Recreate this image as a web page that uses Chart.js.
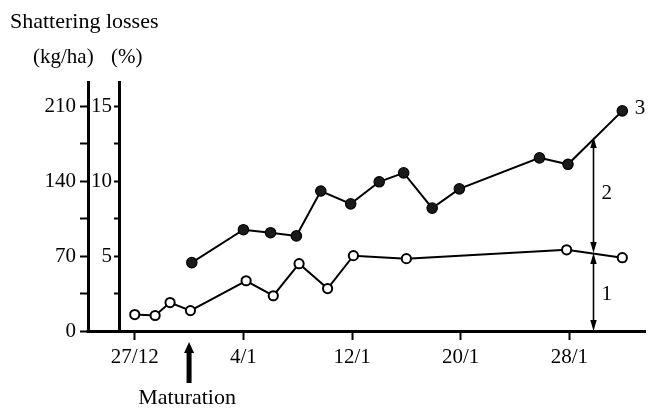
<!DOCTYPE html>
<html><head><meta charset="utf-8">
<script src="https://cdn.jsdelivr.net/npm/chart.js@4.4.1/dist/chart.umd.min.js"></script>
<style>html,body{margin:0;padding:0;background:#fff}#wrap{width:652px;height:408px}</style>
</head><body><div id="wrap"><canvas id="c" width="652" height="408"></canvas></div>
<script>
// Days counted from 27/12
const openDays = [0, 1.5, 2.6, 4.1, 8.2, 10.2, 12.1, 14.2, 16.1, 20, 31.8, 35.9];
const openKg   = [15.4, 14.5, 26.6, 19.1, 47, 33, 63, 39.7, 70.5, 67.7, 76, 68.6];
const filledDays = [4.2, 8, 10, 11.9, 13.7, 15.9, 18, 19.8, 21.9, 23.9, 29.8, 31.9, 35.9];
const filledKg   = [64, 94.8, 92, 89, 131, 119, 139.6, 148, 115, 133, 162, 156, 206];

const xTickDays = [0, 8, 16, 24, 32];
const xTickLabels = ['27/12', '4/1', '12/1', '20/1', '28/1'];
const kgTicks = [0, 35, 70, 105, 140, 175, 210];
const kgLabels = ['0', '', '70', '', '140', '', '210'];
const pctTicks = [2.5, 5, 7.5, 10, 12.5, 15];
const pctLabels = ['', '5', '', '10', '', '15'];
const kgPerPct = 14;

const maturationDay = 4;
const arrowDay = 33.75;
const arrowLevels = [0, 73, 181.5];
const curveLabelTexts = ['1', '2', '3'];
const curveLabelDays = [34.75, 34.75, 37.2];
const curveLabelKg = [34, 129, 208];

const FONT = '"Liberation Serif", "Times New Roman", serif';
const KG_MAX = 233;

const annot = {
  id: 'annot',
  afterDraw(chart) {
    const {ctx, chartArea, scales} = chart;
    const x = scales.x, y = scales.y, kg = scales.y;
    ctx.save();
    ctx.fillStyle = '#000';
    ctx.strokeStyle = '#000';
    // baseline segment between the two vertical axes
    const by = Math.round(chartArea.bottom) + 0.5;
    ctx.lineWidth = 3;
    ctx.beginPath();
    ctx.moveTo(kg.right - 1.5, by);
    ctx.lineTo(chartArea.left + 1, by);
    ctx.stroke();

    // double arrows on the right
    const ax = Math.round(x.getPixelForValue(arrowDay)) + 0.5;
    const head = (tx, ty, dir) => {
      ctx.beginPath();
      ctx.moveTo(tx, ty);
      ctx.lineTo(tx - 3.2, ty - dir * 11);
      ctx.lineTo(tx + 3.2, ty - dir * 11);
      ctx.closePath();
      ctx.fill();
    };
    ctx.lineWidth = 1.6;
    for (let i = 0; i < arrowLevels.length - 1; i++) {
      const yb = y.getPixelForValue(arrowLevels[i]);
      const yt = y.getPixelForValue(arrowLevels[i + 1]);
      ctx.beginPath();
      ctx.moveTo(ax, yb - 4);
      ctx.lineTo(ax, yt + 4);
      ctx.stroke();
      head(ax, yb, 1);
      head(ax, yt, -1);
    }

    // curve labels
    ctx.font = '21px ' + FONT;
    ctx.textAlign = 'center';
    ctx.textBaseline = 'middle';
    curveLabelTexts.forEach((t, i) => {
      ctx.fillText(t, x.getPixelForValue(curveLabelDays[i]), y.getPixelForValue(curveLabelKg[i]));
    });

    // maturation arrow
    const mx = x.getPixelForValue(maturationDay);
    const tipY = chartArea.bottom + 11;
    const endY = chartArea.bottom + 52;
    ctx.beginPath();
    ctx.moveTo(mx, tipY);
    ctx.lineTo(mx - 5, tipY + 11);
    ctx.lineTo(mx - 2.5, tipY + 11);
    ctx.lineTo(mx - 2.5, endY);
    ctx.lineTo(mx + 2.5, endY);
    ctx.lineTo(mx + 2.5, tipY + 11);
    ctx.lineTo(mx + 5, tipY + 11);
    ctx.closePath();
    ctx.fill();
    ctx.font = '22px ' + FONT;
    ctx.fillText('Maturation', mx - 2, chartArea.bottom + 67);

    // headings
    ctx.textAlign = 'left';
    ctx.fillText('Shattering losses', 10, 22);
    ctx.font = '21px ' + FONT;
    ctx.fillText('(kg/ha)', 33, 57);
    ctx.fillText('(%)', 111, 57);
    ctx.restore();
  }
};

const pts = (days, vals) => days.map((d, i) => ({x: d, y: vals[i]}));

new Chart(document.getElementById('c'), {
  type: 'line',
  data: {
    datasets: [
      {
        label: '1',
        data: pts(openDays, openKg),
        borderColor: '#000', borderWidth: 2,
        pointRadius: 4.6, pointBackgroundColor: '#fff',
        pointBorderColor: '#000', pointBorderWidth: 2,
        tension: 0, yAxisID: 'y'
      },
      {
        label: '3',
        data: pts(filledDays, filledKg),
        borderColor: '#000', borderWidth: 2,
        pointRadius: 5.2, pointBackgroundColor: '#1a1a1a',
        pointBorderColor: '#000', pointBorderWidth: 1.2,
        tension: 0, yAxisID: 'y'
      }
    ]
  },
  options: {
    responsive: false,
    animation: false,
    devicePixelRatio: 1,
    layout: {padding: {top: 82, left: 0, right: 0, bottom: 0}},
    plugins: {legend: {display: false}, tooltip: {enabled: false}, title: {display: false}},
    scales: {
      x: {
        type: 'linear', position: 'bottom',
        min: -1.16, max: 37.6,
        afterFit: s => { s.height = 77; },
        afterBuildTicks: s => { s.ticks = xTickDays.map(v => ({value: v})); },
        grid: {drawOnChartArea: false, drawTicks: true, tickLength: 9, tickWidth: 2, tickColor: '#000'},
        border: {display: true, color: '#000', width: 3},
        ticks: {
          autoSkip: false, maxRotation: 0, padding: 5, color: '#000',
          font: {family: FONT, size: 21},
          callback: (v, i) => xTickLabels[i]
        }
      },
      y: {
        type: 'linear', position: 'left', weight: 1,
        min: 0, max: KG_MAX,
        afterFit: s => { s.width = 88; },
        afterBuildTicks: s => { s.ticks = kgTicks.map(v => ({value: v})); },
        grid: {drawOnChartArea: false, drawTicks: true, tickLength: 8, tickWidth: 2, tickColor: '#000'},
        border: {display: true, color: '#000', width: 3},
        ticks: {
          padding: 4, color: '#000',
          font: {family: FONT, size: 21},
          callback: (v, i) => kgLabels[i]
        }
      },
      pct: {
        type: 'linear', position: 'left', weight: 0,
        min: 0, max: KG_MAX / kgPerPct,
        afterFit: s => { s.width = 31; },
        afterBuildTicks: s => { s.ticks = pctTicks.map(v => ({value: v})); },
        grid: {drawOnChartArea: false, drawTicks: true, tickLength: 5, tickWidth: 2, tickColor: '#000'},
        border: {display: true, color: '#000', width: 3},
        ticks: {
          padding: 2, color: '#000',
          font: {family: FONT, size: 21},
          callback: (v, i) => pctLabels[i]
        }
      }
    }
  },
  plugins: [annot]
});
</script>
</body></html>
